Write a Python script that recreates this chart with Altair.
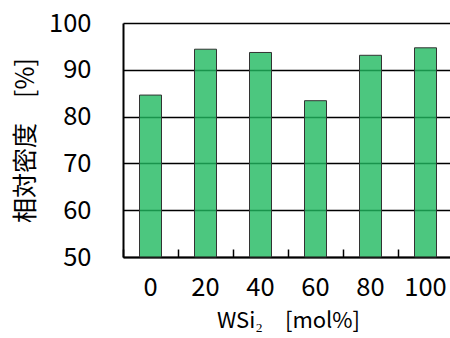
import altair as alt
import pandas as pd

categories = ["0", "20", "40", "60", "80", "100"]
density = [84.6, 94.4, 93.7, 83.4, 93.1, 94.7]

df = pd.DataFrame({"cat": categories, "val": density})
FONT = "Noto Sans CJK JP"

x_scale = alt.Scale(range=[0, 330], paddingInner=0, paddingOuter=0)
y_scale = alt.Scale(domain=[50, 100], nice=False, zero=False)

x_enc = alt.X("cat:N", sort=categories, scale=x_scale,
              axis=alt.Axis(title="WSi₂　[mol%]", labelAngle=0, labelFontSize=25.5,
                            labelPadding=18, titleFontSize=22, titlePadding=10,
                            ticks=False, domainColor="black", domainWidth=2,
                            labelColor="black", titleColor="black",
                            labelFont=FONT, titleFont=FONT, titleFontWeight="normal"))

bars = alt.Chart(df).mark_bar(color="#1fb95f", fillOpacity=0.8, stroke="#333333",
                              strokeWidth=1, width=22).encode(
    x=x_enc,
    y=alt.Y("val:Q", scale=y_scale,
            axis=alt.Axis(title="相対密度　[%]", values=[50, 60, 70, 80, 90, 100],
                          labelFontSize=25.5, labelPadding=32, titleFontSize=25,
                          titlePadding=10, ticks=False, gridColor="black",
                          gridWidth=1.5, gridOpacity=1, domainColor="black",
                          domainWidth=2, labelColor="black", titleColor="black",
                          labelFont=FONT, titleFont=FONT, titleFontWeight="normal")),
    y2=alt.datum(50),
)

tick_axis = alt.Chart(df).mark_point(opacity=0).encode(
    x=alt.X("cat:N", sort=categories, scale=x_scale,
            axis=alt.Axis(orient="bottom", offset=-8, ticks=True, tickSize=8,
                          tickBand="extent", tickColor="black", tickWidth=1.5,
                          labels=False, domain=False, title=None, grid=False)),
)

chart = alt.layer(bars, tick_axis).resolve_axis(x="independent").properties(
    width=327, height=234,
    autosize=alt.AutoSizeParams(type="none"),
    padding={"left": 123, "top": 23, "right": 0, "bottom": 81},
).configure_view(stroke=None)

chart.save("out.html", embed_options={"renderer": "svg", "actions": False})
